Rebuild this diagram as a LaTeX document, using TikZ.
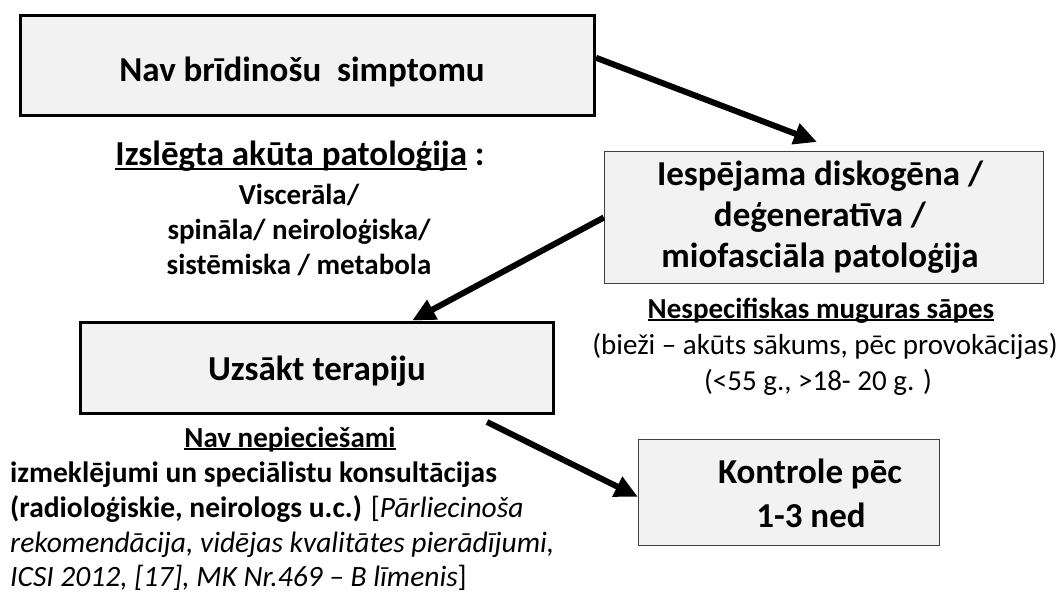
\documentclass[tikz,border=0pt]{standalone}
\usepackage{fontspec}
\setmainfont{Carlito}
\usetikzlibrary{arrows.meta,calc}
\definecolor{boxfill}{HTML}{F2F2F2}
\definecolor{thinedge}{HTML}{404040}
\newcommand\myul[1]{\setbox0\hbox{#1}\rlap{\rule[-0.11em]{\wd0}{0.065em}}\box0}
\begin{document}
\begin{tikzpicture}[x=1pt,y=-1pt,
  thickbox/.style={draw=black, line width=3pt, fill=boxfill, inner sep=0pt},
  thinbox/.style={draw=thinedge, line width=1.3pt, fill=boxfill, inner sep=0pt},
  big/.style={font=\fontsize{35}{41}\selectfont\bfseries, inner sep=0pt, anchor=base},
  smallb/.style={font=\fontsize{29}{35}\selectfont\bfseries, inner sep=0pt, anchor=base},
  smallr/.style={font=\fontsize{29}{35}\selectfont, inner sep=0pt, anchor=base},
  para/.style={font=\fontsize{29.5}{35}\selectfont, inner sep=0pt, anchor=base west},
  conn/.style={line width=6pt, -{Triangle[length=23pt,width=21pt]}}]
\useasboundingbox (0,0) rectangle (1059,593);

% boxes
\node[thickbox, minimum width=574pt, minimum height=100pt] (b1) at (307.5,66) {};
\node[thinbox, minimum width=439pt, minimum height=132pt] (b2) at (824,217.5) {};
\node[thickbox, minimum width=473pt, minimum height=91pt] (b3) at (317,367.5) {};
\node[thinbox, minimum width=301pt, minimum height=106pt] (b4) at (789,492.5) {};

% box texts
\node[big] (t1) at (302,82) {Nav brīdinošu\ \ simptomu};
\node[big] (t2a) at (820,186) {Iespējama diskogēna /};
\node[big] (t2b) at (820,227) {deģeneratīva /};
\node[big] (t2c) at (820,268) {miofasciāla patoloģija};
\node[big] (t3) at (317,380) {Uzsākt terapiju};
\node[big] (t4a) at (810,483) {Kontrole pēc};
\node[big] (t4b) at (811,527) {1-3 ned};

% left annotation
\node[big] (iz) at (300,166) {\myul{Izslēgta akūta patoloģija}\ :};
\node[smallb] (v1) at (299,205) {Viscerāla/};
\node[smallb] (v2) at (299,240) {spināla/ neiroloģiska/};
\node[smallb] (v3) at (299,275) {sistēmiska / metabola};

% right annotation
\node[smallb] (n1) at (821,318) {\myul{Nespecifiskas muguras sāpes}};
\node[smallr] (n2) at (825,354) {(bieži – akūts sākums, pēc provokācijas)};
\node[smallr] (n3) at (818,390) {(<55 g., >18- 20 g. )};

% bottom annotation
\node[smallb] (nn) at (290,447) {\myul{Nav nepieciešami}};
\node[para] (p1) at (10,482) {\bfseries izmeklējumi un speciālistu konsultācijas};
\node[para] (p2) at (10,517) {\textbf{(radioloģiskie, neirologs u.c.)} [\textit{Pārliecinoša}};
\node[para] (p3) at (10,552) {\textit{rekomendācija, vidējas kvalitātes pierādījumi,}};
\node[para] (p4) at (10,586) {\textit{ICSI 2012, [17], MK Nr.469 – B līmenis}]};

% connectors
\coordinate (a1s) at ($(b1.north east)!0.42!(b1.south east)$);
\coordinate (a1e) at (817,142);
\draw[conn] (a1s) -- (a1e);
\draw[conn] (b2.west) -- ($(b3.north west)!0.70!(b3.north east)$);
\coordinate (a3s) at (487,422);
\draw[conn] (a3s) -- ($(b4.north west)!0.54!(b4.south west)$);
\end{tikzpicture}
\end{document}
